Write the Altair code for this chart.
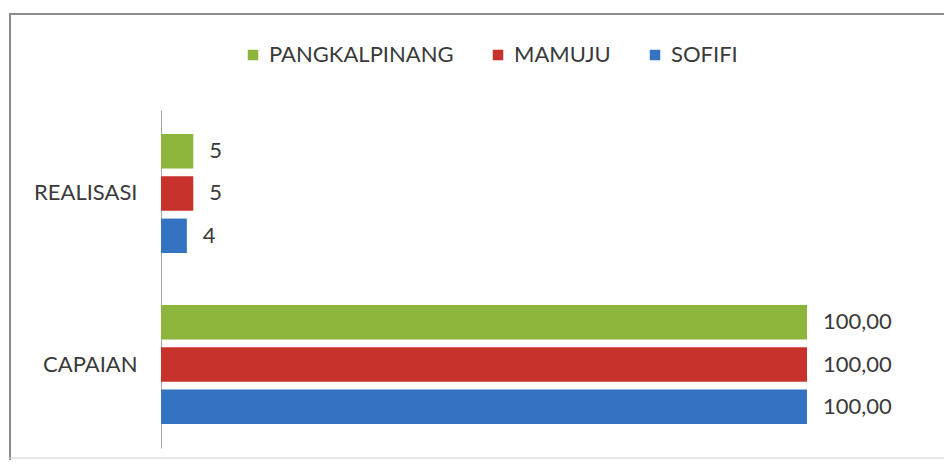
import altair as alt
import pandas as pd

categories = ["REALISASI", "CAPAIAN"]
series = ["PANGKALPINANG", "MAMUJU", "SOFIFI"]
realisasi = [5, 5, 4]
capaian = [100.0, 100.0, 100.0]
colors = ["#8db43b", "#c8322d", "#3472c2"]

rows = []
for s, v in zip(series, realisasi):
    rows.append({"kategori": "REALISASI", "kota": s, "nilai": v, "label": f"{v:d}"})
for s, v in zip(series, capaian):
    rows.append({"kategori": "CAPAIAN", "kota": s, "nilai": v,
                 "label": f"{v:.2f}".replace(".", ",")})
df = pd.DataFrame(rows)

y_enc = alt.Y(
    "kategori:N", sort=categories,
    scale=alt.Scale(paddingInner=0.304, paddingOuter=0.14),
    axis=alt.Axis(title=None, ticks=False, labelPadding=24, labelFontSize=22,
                  labelColor="#3a3a3a", domainColor="#a6a6a6", domainWidth=1,
                  grid=False, labelFont="Lato"),
)
yoff = alt.YOffset("kota:N", sort=series,
                   scale=alt.Scale(domain=series, paddingInner=0.186, paddingOuter=0))
x_enc = alt.X("nilai:Q", scale=alt.Scale(domain=[0, 100], nice=False), axis=None)

color_enc = alt.Color(
    "kota:N",
    scale=alt.Scale(domain=series, range=colors),
    legend=alt.Legend(title=None, orient="none", legendX=81, legendY=-66,
                      direction="horizontal", symbolType="square", symbolSize=110,
                      symbolStrokeWidth=0, labelFontSize=22, labelColor="#3a3a3a",
                      labelOffset=5, columnPadding=33, padding=0, labelFont="Lato",
                      labelLimit=400),
)

bars = alt.Chart(df).mark_bar().encode(x=x_enc, y=y_enc, yOffset=yoff, color=color_enc)

text = alt.Chart(df).mark_text(align="left", baseline="middle", dx=16, fontSize=22,
                               color="#3a3a3a", font="Lato").encode(
    x=x_enc, y=y_enc, yOffset=yoff, text="label:N")

one = pd.DataFrame({"a": [0]})
frame_top = alt.Chart(one).mark_rule(stroke="#8c8c8c", strokeWidth=2).encode(
    x=alt.value(-152), x2=alt.value(900), y=alt.value(-96))
frame_left = alt.Chart(one).mark_rule(stroke="#8c8c8c", strokeWidth=2).encode(
    x=alt.value(-151), y=alt.value(-97), y2=alt.value(350))
frame_bottom = alt.Chart(one).mark_rule(stroke="#cfcfcf", strokeWidth=1).encode(
    x=alt.value(-152), x2=alt.value(900), y=alt.value(348))

chart = alt.layer(frame_top, frame_left, frame_bottom, bars, text).properties(
    width=646, height=338,
    padding={"left": 153, "top": 102, "right": 137, "bottom": 12},
    autosize="none",
).configure(font="Lato").configure_view(stroke=None)

chart.save("out.html", embed_options={"renderer": "svg", "actions": False})
